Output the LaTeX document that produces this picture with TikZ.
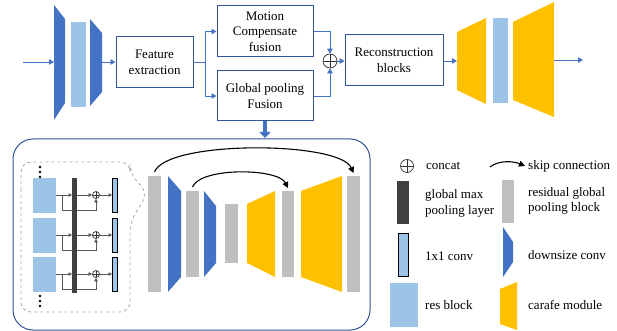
\documentclass[tikz,border=0pt]{standalone}
\usepackage{fontspec}
\setmainfont{Liberation Serif}
\usetikzlibrary{arrows.meta,calc,backgrounds}
\definecolor{dkblue}{HTML}{4472C4}
\definecolor{ltblue}{HTML}{9DC3E6}
\definecolor{gold}{HTML}{FFC000}
\definecolor{lgray}{HTML}{BFBFBF}
\definecolor{dgray}{HTML}{404040}
\definecolor{edge}{HTML}{2F5597}
\definecolor{lnblue}{HTML}{4472C4}
\definecolor{sgray}{HTML}{595959}
\begin{document}
\begin{tikzpicture}[x=1pt,y=-1pt, font=\fontsize{13}{15.5}\selectfont,
 box/.style={draw=edge, line width=1pt, fill=white, align=center, inner sep=0pt},
 arr/.style={draw=lnblue, line width=0.9pt, -{Triangle[width=5.5pt,length=5pt]}},
 ln/.style={draw=lnblue, line width=0.9pt},
 sarr/.style={draw=sgray, line width=0.6pt, -{Triangle[width=3.5pt,length=3.5pt]}},
 skip/.style={draw=black, line width=1.1pt, -{Triangle[width=6pt,length=6pt]}},
 blk/.style={inner sep=0pt, outer sep=0pt, draw=none},
 oplus/.style={circle, draw=black!80, line width=0.7pt, inner sep=0pt, minimum size=#1,
   path picture={\draw[black!80, line width=0.7pt]
   (path picture bounding box.north) -- (path picture bounding box.south)
   (path picture bounding box.west) -- (path picture bounding box.east);}},
 lbl/.style={anchor=west, align=left, inner sep=0pt}
]
\useasboundingbox (0,0) rectangle (617,331);

% ---------- top row ----------
\fill[dkblue] (54,5) -- (65,19) -- (65,103) -- (54,120) -- cycle;
\node[blk, fill=ltblue, minimum width=15, minimum height=85] (lb1) at (78.5,64.5) {};
\fill[dkblue] (90,19) -- (102,33) -- (102,92) -- (90,106) -- cycle;
\coordinate (in) at (23,62);
\coordinate (t1) at (54,62);
\coordinate (t2) at (102,62);
\draw[arr] (in) -- (t1);

\node[box, minimum width=77, minimum height=51] (fe) at (154.5,62.5) {Feature\\extraction};
\draw[arr] (t2) -- (t2 -| fe.west);

\node[box, minimum width=96, minimum height=51] (mc) at (265,31.5) {Motion\\Compensate\\fusion};
\node[box, minimum width=96, minimum height=50] (gp) at (265,96) {Global pooling\\Fusion};
\coordinate (br) at (205,62.5);
\draw[ln] (fe.east) -- (br);
\draw[arr] (br) |- (mc.west);
\draw[arr] (br) |- (gp.west);

\node[oplus=14] (opt) at (330,61) {};
\draw[arr] (mc.east) -| (opt.north);
\draw[arr] (gp.east) -| (opt.south);

\node[box, minimum width=98, minimum height=51] (rc) at (394,60.5) {Reconstruction\\blocks};
\draw[arr] (opt.east) -- (opt.east -| rc.west);

\fill[gold] (457,32) -- (486,18) -- (486,104) -- (457,90) -- cycle;
\node[blk, fill=ltblue, minimum width=15, minimum height=85] (lb2) at (500.5,60.5) {};
\fill[gold] (513,22) -- (554,2) -- (554,117) -- (513,100) -- cycle;
\coordinate (y1) at (457,61);
\coordinate (y2) at (554,60);
\coordinate (out) at (583,60);
\draw[arr] (rc.east |- y1) -- (y1);
\draw[arr] (y2) -- (out);

\coordinate (bt) at (265,138);
\draw[lnblue, line width=4pt, -{Triangle[width=11pt,length=6pt]}] (gp.south) -- (bt);

% ---------- bottom panel ----------
\draw[edge, line width=1pt, rounded corners=20] (13,139) rectangle (370,330);

\draw[gray!70, dashed, line width=0.8pt, rounded corners=10]
  (21,200) -- (21,162) -- (130,162) -- (130,174) -- (148,193) -- (130,222) -- (130,312) -- (21,312) -- cycle;

\foreach \yy in {167,172,177,296,301,306} \fill[black] (40,\yy) circle (1.3);

\node[blk, fill=dgray, minimum width=5, minimum height=115] (db) at (74.5,235.5) {};
\foreach \i/\y in {1/195,2/235,3/274}{
  \node[blk, fill=ltblue, minimum width=23, minimum height=35] (rb\i) at (44.5,\y) {};
  \node[oplus=7, fill=white] (so\i) at (96,\y) {};
  \node[blk, fill=ltblue, draw=black, line width=0.8pt, minimum width=5, minimum height=34] (cv\i) at (114.5,\y) {};
  \coordinate (bs\i) at (62,\y);
  \begin{pgfonlayer}{background}
  \draw[sarr] (rb\i.east) -- (rb\i.east -| db.west);
  \draw[sarr] (bs\i) -- ++(0,15) -| (so\i.south);
  \end{pgfonlayer}
  \draw[sarr] (db.east |- so\i.west) -- (so\i.west);
  \draw[sarr] (so\i.east) -- (cv\i.west);
}

\node[blk, fill=lgray, minimum width=13, minimum height=116] (g1) at (154.5,234) {};
\fill[dkblue] (168,176) -- (181,191) -- (181,277) -- (168,292) -- cycle;
\node[blk, fill=lgray, minimum width=13, minimum height=86] (g2) at (192.5,234) {};
\fill[dkblue] (204,191) -- (216,206) -- (216,263) -- (204,277) -- cycle;
\node[blk, fill=lgray, minimum width=13, minimum height=59] (g3) at (231.5,233.5) {};
\fill[gold] (247,204) -- (275,191) -- (275,277) -- (247,263) -- cycle;
\node[blk, fill=lgray, minimum width=12, minimum height=86] (g4) at (288,234) {};
\fill[gold] (301,191) -- (342,176) -- (342,292) -- (301,277) -- cycle;
\node[blk, fill=lgray, minimum width=13, minimum height=116] (g5) at (353.5,234) {};

\draw[skip] ([yshift=4pt]g1.north) .. controls +(12,-32) and +(-14,-32) .. ([yshift=3pt]g5.north);
\draw[skip] ([yshift=4pt]g2.north) .. controls +(8,-20) and +(-10,-20) .. ([yshift=3pt]g4.north);

% ---------- legend ----------
\node[oplus=13] (lop) at (407,166) {};
\node[lbl] (lt1) at (426,166) {concat};
\coordinate (sk1) at (490,167);
\coordinate (sk2) at (525,166);
\draw[skip] (sk1) .. controls +(9,-7) and +(-12,-5) .. (sk2);
\node[lbl] (lt2) at (528,166) {skip connection};

\node[blk, fill=dgray, minimum width=12, minimum height=43] (ldb) at (403,202.5) {};
\node[lbl, text depth=0pt] (lt3) at (425,202) {global max\\pooling layer};
\node[blk, fill=lgray, minimum width=12, minimum height=43] (lgb) at (508,201.5) {};
\node[lbl] (lt4) at (528,201) {residual global\\pooling block};

\node[blk, fill=ltblue, draw=black, line width=0.8pt, minimum width=10, minimum height=43] (lcv) at (403,255) {};
\node[lbl] (lt5) at (425,256) {1x1 conv};
\fill[dkblue] (503,227) -- (513,242) -- (513,262) -- (503,277) -- cycle;
\node[lbl] (lt6) at (528,255) {downsize conv};

\node[blk, fill=ltblue, minimum width=28, minimum height=44] (lrb) at (404,305) {};
\node[lbl] (lt7) at (425,305) {res block};
\fill[gold] (500,289) -- (517,282) -- (517,330) -- (500,324) -- cycle;
\node[lbl] (lt8) at (528,305) {carafe module};
\end{tikzpicture}
\end{document}
